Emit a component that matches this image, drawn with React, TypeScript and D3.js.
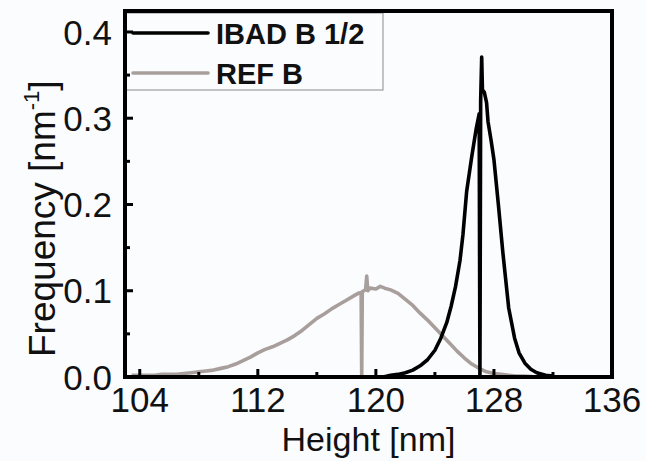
import React from "react";
import * as d3 from "d3";

const ibadX = [120.5, 121, 121.5, 122, 122.5, 123, 123.5, 124, 124.4, 124.8, 125.1, 125.4, 125.7, 125.9, 126.15, 126.5, 126.8, 127.0, 127.05, 127.1, 127.17, 127.22, 127.35, 127.5, 127.6, 127.8, 128.0, 128.3, 128.6, 129.0, 129.4, 129.7, 130.1, 130.5, 130.9, 131.5, 132];
const ibadY = [0.0, 0.002, 0.003, 0.005, 0.008, 0.013, 0.02, 0.031, 0.045, 0.063, 0.082, 0.105, 0.135, 0.165, 0.215, 0.256, 0.288, 0.305, 0.0, 0.32, 0.371, 0.333, 0.33, 0.318, 0.296, 0.275, 0.252, 0.2, 0.145, 0.08, 0.045, 0.028, 0.016, 0.009, 0.005, 0.002, 0.001];

const refX = [103.45, 104, 104.5, 105, 105.5, 106, 106.5, 107, 107.5, 108, 108.5, 109, 109.5, 110, 110.5, 111, 111.5, 112, 112.5, 113, 113.5, 114, 114.5, 115, 115.5, 116, 116.5, 117, 117.5, 118, 118.5, 118.8, 119.0, 119.04, 119.08, 119.3, 119.38, 119.45, 119.6, 120, 120.3, 120.6, 121, 121.5, 122, 122.5, 123, 123.5, 124, 124.5, 125, 125.5, 126, 126.5, 127, 127.5, 128, 128.5, 129, 129.5, 130, 130.6];
const refY = [0.002, 0.002, 0.002, 0.002, 0.003, 0.003, 0.003, 0.004, 0.005, 0.006, 0.007, 0.008, 0.01, 0.012, 0.015, 0.019, 0.023, 0.028, 0.032, 0.035, 0.039, 0.043, 0.048, 0.054, 0.061, 0.068, 0.073, 0.079, 0.084, 0.089, 0.094, 0.097, 0.098, 0.0, 0.099, 0.101, 0.117, 0.1, 0.103, 0.102, 0.105, 0.103, 0.101, 0.097, 0.09, 0.083, 0.074, 0.066, 0.057, 0.048, 0.039, 0.03, 0.022, 0.015, 0.01, 0.006, 0.004, 0.003, 0.002, 0.001, 0.001, 0.0005];

const xTicks = [104, 112, 120, 128, 136];
const xMinor = [108, 116, 124, 132];
const yTicks = [0, 0.1, 0.2, 0.3, 0.4];
const yMinor = [0.05, 0.15, 0.25, 0.35];
const seriesNames = ["IBAD B 1/2", "REF B"];
const seriesColors = ["#000000", "#a89f9d"];

const W = 646, H = 461;
const L = 125, R = 612, T = 11, B = 377;

export default function App() {
  const x = d3.scaleLinear().domain([103, 136]).range([L, R]);
  const y = d3.scaleLinear().domain([0, 0.4243]).range([B, T]);
  const line = d3.line<[number, number]>().x(d => x(d[0])).y(d => y(d[1]));
  const ibad: [number, number][] = ibadX.map((v, i) => [v, ibadY[i]]);
  const ref: [number, number][] = refX.map((v, i) => [v, refY[i]]);
  const font = "'Liberation Sans', Arial, sans-serif";
  return (
    <svg width={W} height={H} style={{ position: "fixed", left: 0, top: 0, background: "#fbfcfe" }} fontFamily={font}>
      <rect x={0} y={0} width={W} height={H} fill="#fbfcfe" />
      <path d={line(ref) || ""} fill="none" stroke={seriesColors[1]} strokeWidth={3.6} strokeLinejoin="round" />
      <path d={line(ibad) || ""} fill="none" stroke={seriesColors[0]} strokeWidth={3.6} strokeLinejoin="round" />
      {/* legend */}
      <rect x={L} y={13} width={258} height={77} fill="#fbfcfe" stroke="#8a8a8a" strokeWidth={1} />
      <line x1={133} x2={208} y1={33} y2={33} stroke={seriesColors[0]} strokeWidth={3.6} strokeLinecap="round" />
      <text x={216} y={44} fontSize={29} fontWeight="bold" fill="#111">{seriesNames[0]}</text>
      <line x1={133} x2={208} y1={73} y2={73} stroke={seriesColors[1]} strokeWidth={3.6} strokeLinecap="round" />
      <text x={216} y={84} fontSize={29} fontWeight="bold" fill="#111">{seriesNames[1]}</text>
      {/* frame */}
      <rect x={L} y={T} width={R - L} height={B - T} fill="none" stroke="#000" strokeWidth={4} />
      {xTicks.map(t => (
        <g key={"xt" + t}>
          <line x1={x(t)} x2={x(t)} y1={B} y2={B - 8} stroke="#000" strokeWidth={3} />
          <text x={x(t)} y={412} fontSize={35} textAnchor="middle" fill="#111">{t}</text>
        </g>
      ))}
      {xMinor.map(t => (
        <line key={"xm" + t} x1={x(t)} x2={x(t)} y1={B} y2={B - 5} stroke="#000" strokeWidth={3} />
      ))}
      {yTicks.map(t => (
        <g key={"yt" + t}>
          <line x1={L} x2={L + 8} y1={y(t)} y2={y(t)} stroke="#000" strokeWidth={3} />
          <text x={112} y={y(t)} dy="0.36em" fontSize={35} textAnchor="end" fill="#111">{t.toFixed(1)}</text>
        </g>
      ))}
      {yMinor.map(t => (
        <line key={"ym" + t} x1={L} x2={L + 5} y1={y(t)} y2={y(t)} stroke="#000" strokeWidth={3} />
      ))}
      <text x={(L + R) / 2} y={451} fontSize={34} textAnchor="middle" fill="#111">Height [nm]</text>
      <text transform="translate(55,357) rotate(-90)" fontSize={37} fill="#111">
        Frequency [nm<tspan fontSize={22} dy={-16}>-1</tspan><tspan dy={16}>]</tspan>
      </text>
    </svg>
  );
}
